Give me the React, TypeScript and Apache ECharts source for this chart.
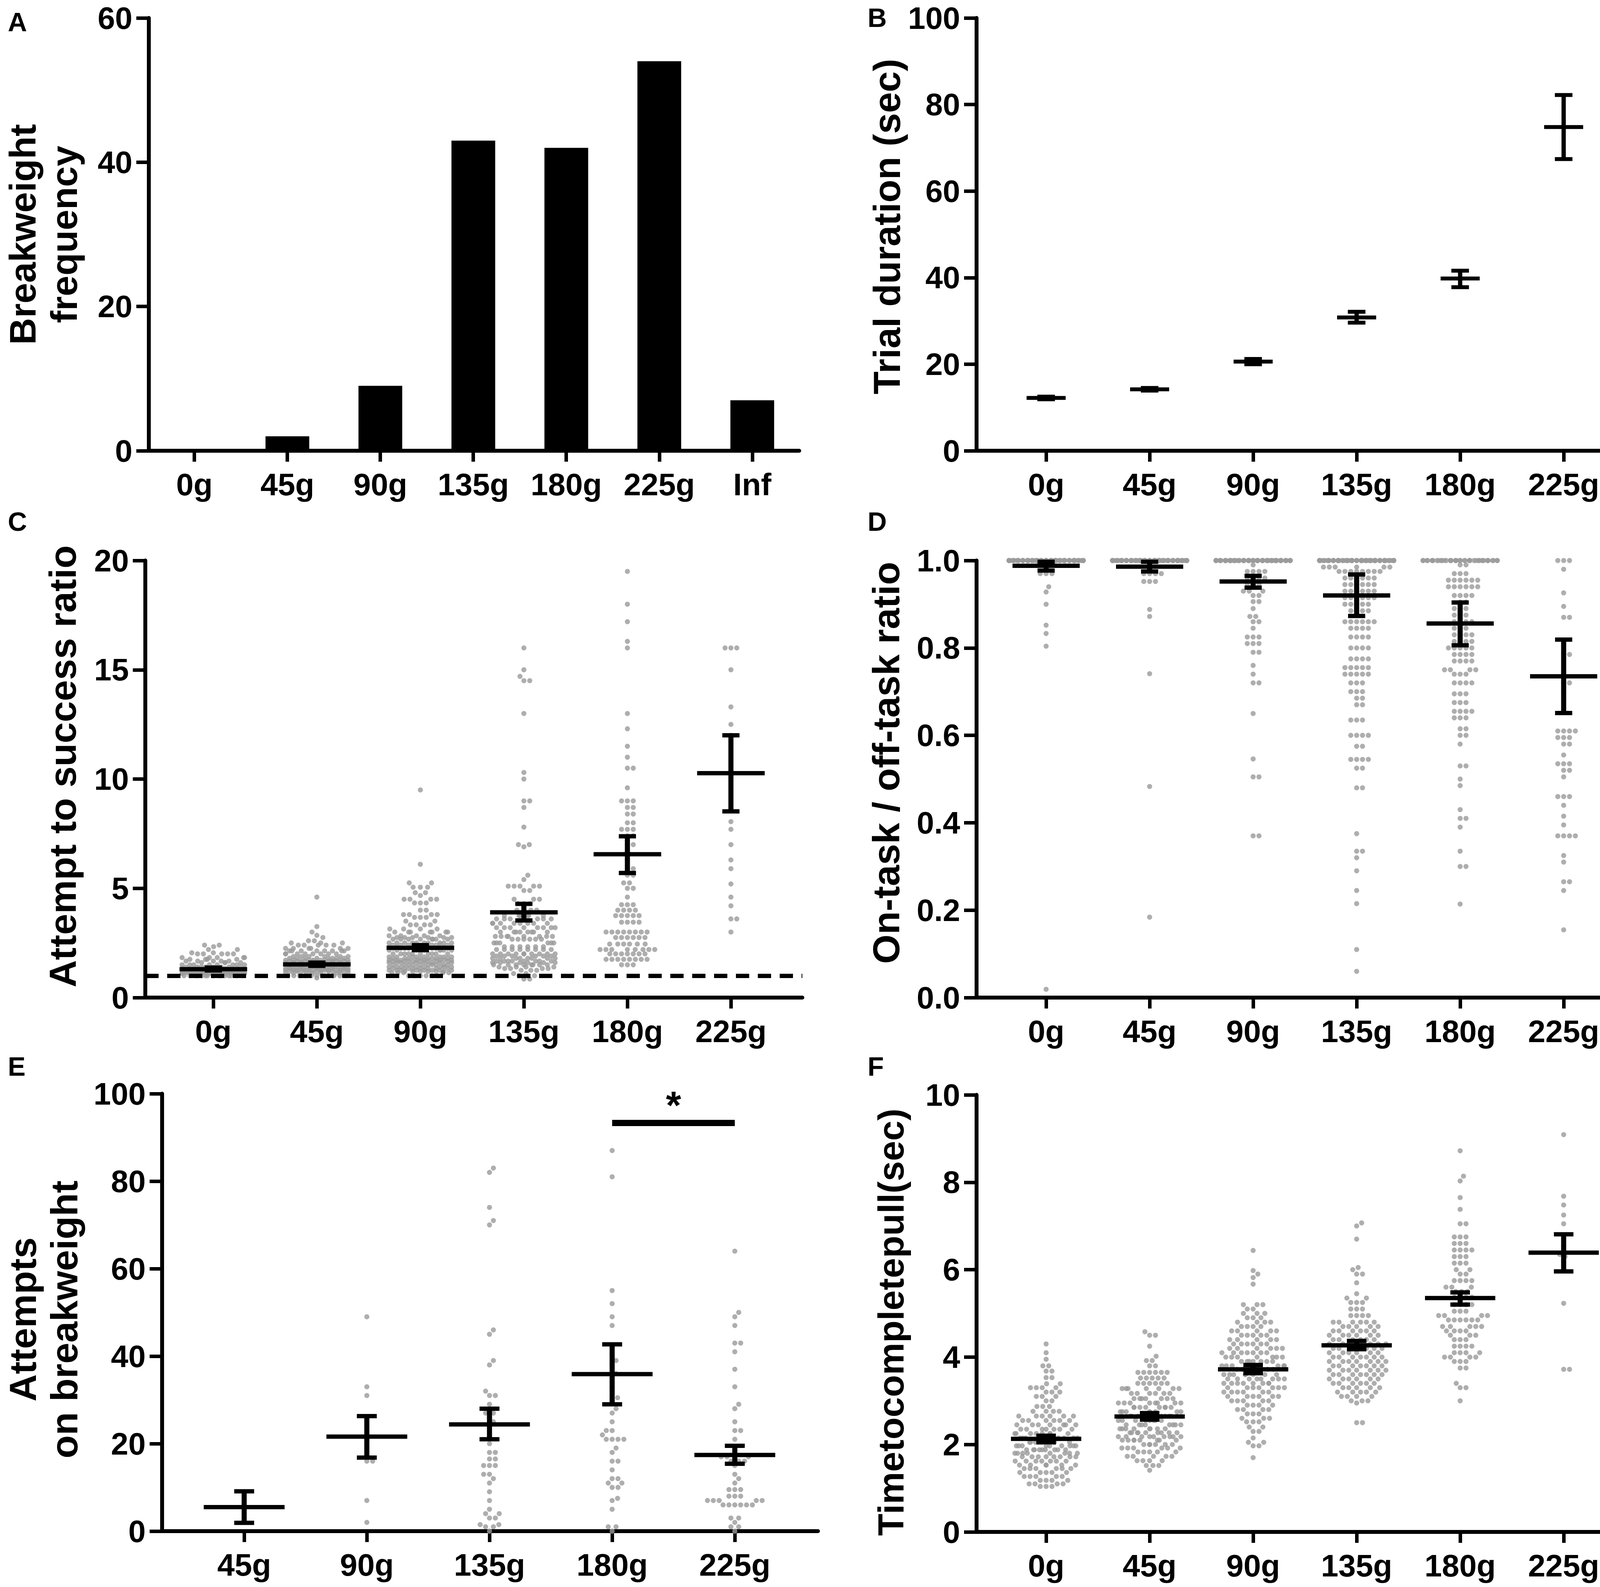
import React, { useEffect, useRef } from 'react';
import * as echarts from 'echarts';

const FONT = '"Liberation Sans", Arial, Helvetica, sans-serif';

// ---------- categories ----------
const catsA = ['0g', '45g', '90g', '135g', '180g', '225g', 'Inf'];
const cats6 = ['0g', '45g', '90g', '135g', '180g', '225g'];
const catsE = ['45g', '90g', '135g', '180g', '225g'];

// ---------- A: breakweight frequency ----------
const breakFreq = [0, 2, 9, 43, 42, 54, 7];

// ---------- B: trial duration (mean, SEM limits) ----------
const trialMean = [12.2, 14.2, 20.6, 30.8, 39.8, 74.8];
const trialLo = [11.9, 13.9, 20.0, 29.6, 37.8, 67.4];
const trialHi = [12.5, 14.5, 21.2, 32.1, 41.6, 82.2];

// ---------- C: attempt to success ratio, dots as [value, count] ----------
const ratio0g = [[2.4, 2], [2.33, 1], [2.2, 2], [2.05, 2], [2.0, 5], [1.83, 5], [1.75, 4], [1.67, 5], [1.6, 4], [1.5, 8], [1.4, 8], [1.33, 12], [1.25, 14], [1.2, 12], [1.14, 12], [1.1, 10], [1.0, 16]];
const ratio45g = [[4.6, 1], [3.25, 1], [3.0, 1], [2.85, 1], [2.75, 1], [2.6, 2], [2.5, 3], [2.4, 5], [2.25, 6], [2.14, 8], [2.0, 8], [1.88, 6], [1.8, 8], [1.71, 8], [1.67, 10], [1.6, 10], [1.5, 14], [1.4, 10], [1.33, 12], [1.25, 12], [1.2, 8], [1.13, 8], [1.0, 14], [0.9, 1]];
const ratio90g = [[9.5, 1], [6.1, 1], [5.25, 2], [5.05, 3], [4.8, 2], [4.67, 1], [4.5, 4], [4.33, 3], [4.0, 2], [3.8, 4], [3.67, 3], [3.5, 2], [3.33, 4], [3.14, 4], [3.0, 7], [2.83, 5], [2.75, 6], [2.67, 8], [2.5, 10], [2.4, 8], [2.33, 8], [2.25, 8], [2.17, 8], [2.0, 10], [1.86, 8], [1.8, 8], [1.71, 8], [1.67, 8], [1.6, 8], [1.5, 10], [1.4, 8], [1.33, 8], [1.25, 8], [1.2, 6], [1.14, 5], [1.0, 6]];
const ratio135g = [[16, 1], [15, 1], [14.7, 1], [14.5, 2], [13, 1], [10.3, 1], [10, 1], [9, 2], [8.7, 1], [7.8, 1], [7, 2], [6.9, 1], [5.6, 1], [5.4, 1], [5.1, 5], [4.9, 2], [4.5, 3], [4.3, 3], [4.0, 4], [3.75, 6], [3.6, 7], [3.4, 8], [3.2, 8], [3.0, 8], [2.8, 8], [2.67, 6], [2.5, 6], [2.33, 6], [2.2, 8], [2.0, 10], [1.9, 6], [1.8, 8], [1.67, 8], [1.6, 6], [1.5, 8], [1.4, 4], [1.33, 4], [1.25, 3], [1.1, 2], [1.0, 2], [0.85, 2]];
const ratio180g = [[19.5, 1], [18, 1], [17.2, 1], [16.3, 1], [16, 1], [13, 1], [12.3, 1], [11.5, 1], [11, 1], [10.5, 2], [9.6, 1], [9, 3], [8.7, 2], [8.4, 2], [8, 2], [7.7, 3], [7.4, 2], [7, 2], [6.7, 1], [6.3, 1], [5.9, 2], [5.6, 2], [5.25, 2], [5.0, 2], [4.6, 1], [4.25, 3], [4.0, 4], [3.75, 5], [3.45, 4], [3.0, 8], [2.75, 6], [2.45, 6], [2.2, 8], [2.0, 7], [1.75, 8], [1.5, 3]];
const ratio225g = [[16, 3], [15, 1], [13.3, 1], [12.5, 1], [12, 1], [8.55, 1], [8.05, 1], [7.7, 1], [7.0, 1], [6.3, 1], [5.9, 1], [5.2, 1], [4.6, 1], [4.2, 1], [3.6, 2], [3.0, 1]];
const ratioMean = [1.3, 1.52, 2.28, 3.9, 6.56, 10.27];
const ratioLo = [1.24, 1.45, 2.17, 3.53, 5.7, 8.52];
const ratioHi = [1.37, 1.6, 2.4, 4.29, 7.38, 12.0];
const chanceRatio = 1;

// ---------- D: on-task / off-task ratio ----------
const onTask0g = [[1.0, 70], [0.97, 3], [0.94, 1], [0.928, 1], [0.9, 1], [0.852, 1], [0.833, 1], [0.804, 1], [0.019, 1]];
const onTask45g = [[1.0, 70], [0.97, 4], [0.952, 3], [0.888, 1], [0.872, 1], [0.741, 1], [0.483, 1], [0.184, 1]];
const onTask90g = [[1.0, 60], [0.99, 1], [0.975, 4], [0.96, 4], [0.945, 3], [0.93, 3], [0.92, 2], [0.906, 2], [0.89, 1], [0.872, 2], [0.86, 2], [0.845, 1], [0.825, 3], [0.81, 3], [0.79, 2], [0.76, 1], [0.74, 1], [0.72, 2], [0.65, 1], [0.546, 1], [0.505, 2], [0.37, 2]];
const onTask135g = [[1.0, 60], [0.985, 6], [0.975, 8], [0.96, 6], [0.945, 6], [0.93, 6], [0.915, 6], [0.9, 5], [0.885, 4], [0.86, 6], [0.845, 4], [0.825, 4], [0.8, 4], [0.775, 4], [0.755, 5], [0.74, 5], [0.72, 3], [0.7, 3], [0.685, 2], [0.67, 2], [0.635, 3], [0.6, 4], [0.575, 2], [0.545, 4], [0.525, 2], [0.48, 2], [0.375, 1], [0.335, 2], [0.32, 1], [0.29, 1], [0.245, 1], [0.215, 1], [0.11, 1], [0.06, 1]];
const onTask180g = [[1.0, 40], [0.99, 2], [0.97, 3], [0.955, 6], [0.94, 6], [0.92, 4], [0.905, 2], [0.89, 3], [0.875, 3], [0.86, 4], [0.845, 3], [0.83, 4], [0.815, 4], [0.8, 5], [0.785, 4], [0.77, 4], [0.75, 4], [0.74, 3], [0.72, 4], [0.695, 3], [0.675, 3], [0.655, 4], [0.64, 3], [0.615, 2], [0.6, 2], [0.58, 1], [0.53, 2], [0.5, 1], [0.485, 1], [0.43, 1], [0.41, 2], [0.39, 1], [0.335, 1], [0.3, 2], [0.214, 1]];
const onTask225g = [[1.0, 3], [0.98, 1], [0.926, 1], [0.895, 1], [0.87, 2], [0.785, 2], [0.72, 2], [0.7, 1], [0.61, 4], [0.595, 3], [0.58, 2], [0.555, 1], [0.535, 3], [0.52, 2], [0.505, 1], [0.46, 3], [0.44, 1], [0.415, 1], [0.395, 1], [0.37, 4], [0.325, 1], [0.31, 1], [0.265, 2], [0.245, 1], [0.155, 1]];
const onTaskMean = [0.988, 0.986, 0.952, 0.92, 0.856, 0.735];
const onTaskLo = [0.977, 0.975, 0.938, 0.873, 0.806, 0.651];
const onTaskHi = [0.997, 0.997, 0.965, 0.968, 0.904, 0.819];

// ---------- E: attempts on breakweight ----------
const attempts45g = [[2, 1], [9, 1]];
const attempts90g = [[49, 1], [33, 1], [31, 1], [21, 1], [19, 1], [16, 2], [7, 1], [2, 1]];
const attempts135g = [[83, 1], [82, 1], [74, 1], [71, 1], [70, 1], [46, 1], [45, 1], [39, 1], [38, 1], [32, 1], [31, 2], [29, 1], [27, 2], [26, 1], [25, 1], [24, 1], [20, 1], [18, 2], [16.5, 2], [15, 3], [13, 2], [12, 1], [11, 1], [9, 1], [7, 1], [5, 1], [4, 2], [3, 2], [1.5, 2], [1, 2], [0, 1]];
const attempts180g = [[87, 1], [81, 1], [55, 1], [52, 1], [49, 1], [47, 1], [42, 1], [40, 1], [39, 1], [38, 1], [36, 1], [35, 1], [33, 1], [30.5, 1], [30, 1], [28, 1], [27, 1], [25, 1], [23, 2], [22, 1], [21, 4], [19, 1], [18, 1], [16, 2], [14, 1], [12, 2], [11, 2], [10, 2], [7.5, 1], [7, 1], [5, 1], [1, 2], [0, 1]];
const attempts225g = [[64, 1], [50, 1], [49, 1], [47, 1], [43, 2], [41, 1], [37, 1], [33, 1], [29, 1], [28, 1], [25, 1], [23, 2], [21, 1], [18.5, 1], [17, 4], [16, 3], [15, 1], [13, 1], [12, 1], [11, 1], [9.5, 3], [8, 3], [7, 5], [6, 6], [3, 2], [2, 1], [1, 2], [0, 1]];
const attemptsMean = [5.5, 21.6, 24.4, 35.9, 17.4];
const attemptsLo = [1.9, 16.8, 21.0, 29.0, 15.4];
const attemptsHi = [9.1, 26.3, 28.0, 42.7, 19.5];
const sigPair = [3, 4];
const sigLevel = 93.3;
const sigText = '*';

// ---------- F: time to complete pull ----------
const pull0g = [[4.3, 1], [4.1, 1], [3.95, 1], [3.8, 2], [3.68, 2], [3.53, 2], [3.39, 2], [3.3, 4], [3.2, 3], [3.1, 3], [3.0, 2], [2.87, 3], [2.76, 4], [2.65, 6], [2.55, 6], [2.45, 7], [2.35, 7], [2.25, 8], [2.15, 8], [2.05, 8], [1.97, 9], [1.88, 9], [1.8, 8], [1.72, 8], [1.62, 7], [1.53, 6], [1.45, 6], [1.36, 5], [1.27, 5], [1.18, 4], [1.1, 4], [1.04, 3]];
const pull45g = [[4.58, 1], [4.5, 2], [4.25, 1], [4.02, 1], [3.92, 2], [3.8, 2], [3.65, 6], [3.52, 5], [3.4, 6], [3.28, 7], [3.17, 6], [3.05, 7], [2.95, 8], [2.85, 8], [2.75, 8], [2.65, 9], [2.55, 8], [2.45, 8], [2.36, 8], [2.27, 9], [2.18, 9], [2.1, 8], [2.0, 6], [1.92, 6], [1.83, 5], [1.73, 5], [1.63, 4], [1.52, 3], [1.41, 1]];
const pull90g = [[6.44, 1], [5.98, 1], [5.9, 1], [5.82, 1], [5.67, 1], [5.2, 3], [5.1, 2], [5.0, 3], [4.9, 3], [4.8, 4], [4.7, 4], [4.6, 5], [4.5, 5], [4.4, 5], [4.3, 6], [4.2, 6], [4.1, 7], [4.0, 7], [3.9, 7], [3.8, 7], [3.72, 7], [3.6, 8], [3.5, 8], [3.4, 8], [3.3, 7], [3.2, 6], [3.1, 6], [3.0, 5], [2.9, 4], [2.8, 4], [2.7, 3], [2.6, 3], [2.52, 3], [2.4, 2], [2.3, 2], [2.15, 1], [2.05, 2], [1.97, 2], [1.7, 1]];
const pull135g = [[7.07, 1], [7.0, 1], [6.7, 1], [6.05, 1], [6.0, 1], [5.9, 2], [5.7, 1], [5.45, 1], [5.35, 2], [5.25, 3], [5.1, 3], [4.95, 4], [4.8, 6], [4.7, 5], [4.6, 6], [4.5, 6], [4.4, 6], [4.3, 7], [4.2, 7], [4.1, 6], [4.0, 7], [3.9, 7], [3.8, 7], [3.7, 7], [3.6, 7], [3.5, 6], [3.4, 6], [3.3, 5], [3.2, 5], [3.1, 4], [3.0, 3], [2.95, 1], [2.5, 2]];
const pull180g = [[8.72, 1], [8.14, 1], [8.03, 1], [7.65, 1], [7.38, 1], [7.05, 2], [6.75, 3], [6.6, 3], [6.45, 4], [6.3, 3], [6.15, 3], [6.0, 2], [5.9, 2], [5.75, 4], [5.6, 3], [5.5, 3], [5.37, 4], [5.2, 4], [5.05, 3], [4.95, 4], [4.85, 6], [4.7, 5], [4.6, 4], [4.5, 3], [4.4, 3], [4.25, 4], [4.1, 4], [4.0, 4], [3.9, 3], [3.75, 2], [3.4, 1], [3.3, 2], [3.0, 1]];
const pull225g = [[9.09, 1], [7.68, 1], [7.48, 1], [7.25, 1], [7.05, 1], [6.54, 1], [6.35, 1], [6.3, 1], [6.17, 1], [5.23, 1], [3.72, 2]];
const pullMean = [2.13, 2.64, 3.72, 4.27, 5.35, 6.39];
const pullLo = [2.05, 2.57, 3.63, 4.18, 5.2, 5.96];
const pullHi = [2.2, 2.72, 3.82, 4.37, 5.48, 6.81];

// ---------- layout (pixels) ----------
const PANELS = [
  { id: 'A', left: 381, top: 46, width: 1665, height: 1108, xMin: -0.49, xMax: 6.505, yMax: 60, yInt: 20, cats: catsA },
  { id: 'B', left: 2500, top: 46, width: 1685, height: 1108, xMin: -0.672, xMax: 5.687, yMax: 100, yInt: 20, cats: cats6 },
  { id: 'C', left: 372, top: 1435, width: 1682, height: 1119, xMin: -0.657, xMax: 5.69, yMax: 20, yInt: 5, cats: cats6 },
  { id: 'D', left: 2500, top: 1435, width: 1685, height: 1119, xMin: -0.672, xMax: 5.687, yMax: 1, yInt: 0.2, cats: cats6 },
  { id: 'E', left: 415, top: 2800, width: 1679, height: 1120, xMin: -0.669, xMax: 4.678, yMax: 100, yInt: 20, cats: catsE },
  { id: 'F', left: 2500, top: 2803, width: 1685, height: 1119, xMin: -0.672, xMax: 5.687, yMax: 10, yInt: 2, cats: cats6 },
];

const DOT = 13;
const DOT_GAP = 15;

function expand(pairs: number[][]): number[] {
  const out: number[] = [];
  pairs.forEach(([v, n]) => { for (let i = 0; i < n; i++) out.push(v); });
  return out;
}

// beeswarm x-offsets (pixels) for a group of values
function swarm(values: number[], pxPerY: number, maxHalf: number): number[] {
  const order = values.map((_, i) => i).sort((a, b) => values[a] - values[b]);
  const placed: { x: number; y: number }[] = [];
  const offs = new Array(values.length).fill(0);
  const d = DOT_GAP;
  const fallback = [0, 0.5, -0.5, 0.25, -0.25, 0.75, -0.75, 1, -1, 0.125, -0.125, 0.625, -0.625, 0.375, -0.375, 0.875, -0.875];
  let cyc = 0;
  for (const i of order) {
    const y = values[i] * pxPerY;
    const near = placed.filter((p) => Math.abs(p.y - y) < d);
    const cands = [0];
    near.forEach((p) => {
      const dx = Math.sqrt(Math.max(0, d * d - (p.y - y) * (p.y - y)));
      cands.push(p.x + dx, p.x - dx);
    });
    cands.sort((a, b) => Math.abs(a) - Math.abs(b));
    let chosen: number | null = null;
    for (const c of cands) {
      if (Math.abs(c) > maxHalf + 0.01) break;
      if (near.every((p) => (p.x - c) * (p.x - c) + (p.y - y) * (p.y - y) >= d * d - 0.5)) { chosen = c; break; }
    }
    if (chosen === null) { chosen = fallback[cyc % fallback.length] * maxHalf; cyc++; }
    placed.push({ x: chosen, y });
    offs[i] = chosen;
  }
  return offs;
}

function dotData(pIdx: number, groups: number[][][], maxHalf: number) {
  const p = PANELS[pIdx];
  const pxPerX = p.width / (p.xMax - p.xMin);
  const pxPerY = p.height / p.yMax;
  const out: number[][] = [];
  groups.forEach((g, k) => {
    const vals = expand(g);
    const offs = swarm(vals, pxPerY, maxHalf);
    vals.forEach((v, j) => out.push([k + offs[j] / pxPerX, v]));
  });
  return out;
}

function summary(means: number[], lo: number[], hi: number[]) {
  return means.map((m, k) => [k, m, lo[k], hi[k]]);
}

function errSeries(idx: number, data: number[][], meanW: number, capW: number, lw: number, vw: number) {
  return {
    type: 'custom', xAxisIndex: idx, yAxisIndex: idx, data, clip: false, silent: true, z: 10,
    renderItem: (params: any, api: any) => {
      const x = api.value(0), m = api.value(1), lo = api.value(2), hi = api.value(3);
      const pm = api.coord([x, m]);
      const pl = api.coord([x, lo]);
      const ph = api.coord([x, hi]);
      const st = { stroke: '#000', lineWidth: lw };
      return {
        type: 'group',
        children: [
          { type: 'line', shape: { x1: pl[0], y1: pl[1], x2: ph[0], y2: ph[1] }, style: { stroke: '#000', lineWidth: vw } },
          { type: 'line', shape: { x1: pl[0] - capW / 2, y1: pl[1], x2: pl[0] + capW / 2, y2: pl[1] }, style: st },
          { type: 'line', shape: { x1: ph[0] - capW / 2, y1: ph[1], x2: ph[0] + capW / 2, y2: ph[1] }, style: st },
          { type: 'line', shape: { x1: pm[0] - meanW / 2, y1: pm[1], x2: pm[0] + meanW / 2, y2: pm[1] }, style: st },
        ],
      };
    },
  };
}

function buildOption() {
  const grid = PANELS.map((p) => ({ left: p.left, top: p.top, width: p.width, height: p.height, containLabel: false, outerBoundsMode: 'none' }));
  const xAxis = PANELS.map((p, i) => {
    const ticks = p.cats.map((_, k) => k);
    return {
      type: 'value', gridIndex: i, min: p.xMin, max: p.xMax,
      axisLine: { show: true, onZero: false, lineStyle: { color: '#000', width: 10 } },
      axisTick: { show: true, length: 28, customValues: ticks, lineStyle: { color: '#000', width: 9 } },
      axisLabel: {
        show: true, customValues: ticks, margin: 46, fontSize: 80, lineHeight: 80, fontWeight: 'bold', fontFamily: FONT, color: '#000',
        formatter: (v: number) => p.cats[Math.round(v)] ?? '',
      },
      splitLine: { show: false },
    };
  });
  const yAxis = PANELS.map((p, i) => ({
    type: 'value', gridIndex: i, min: 0, max: p.yMax, interval: p.yInt,
    axisLine: { show: true, onZero: false, lineStyle: { color: '#000', width: 10 } },
    axisTick: { show: true, length: 32, lineStyle: { color: '#000', width: 9 } },
    axisLabel: {
      margin: 42, fontSize: 80, lineHeight: 62, fontWeight: 'bold', fontFamily: FONT, color: '#000',
      formatter: p.id === 'D' ? (v: number) => v.toFixed(1) : (v: number) => String(Math.round(v)),
    },
    splitLine: { show: false },
  }));

  const dotStyle = { color: '#9a9a9a' };
  const series: any[] = [
    // A
    {
      type: 'bar', xAxisIndex: 0, yAxisIndex: 0, barWidth: 112, silent: true,
      itemStyle: { color: '#000' }, data: breakFreq.map((v, k) => [k, v]),
    },
    // B
    errSeries(1, summary(trialMean, trialLo, trialHi), 100, 45, 10, 11),
    // C
    {
      type: 'scatter', xAxisIndex: 2, yAxisIndex: 2, symbol: 'circle', symbolSize: DOT, silent: true,
      itemStyle: dotStyle,
      data: dotData(2, [ratio0g, ratio45g, ratio90g, ratio135g, ratio180g, ratio225g], 80),
      markLine: {
        silent: true, symbol: 'none', z: 5, label: { show: false },
        lineStyle: { color: '#000', width: 11, type: [34, 22] },
        data: [{ yAxis: chanceRatio }],
      },
    },
    errSeries(2, summary(ratioMean, ratioLo, ratioHi), 173, 44, 11, 13),
    // D
    {
      type: 'scatter', xAxisIndex: 3, yAxisIndex: 3, symbol: 'circle', symbolSize: DOT, silent: true,
      itemStyle: dotStyle,
      data: dotData(3, [onTask0g, onTask45g, onTask90g, onTask135g, onTask180g, onTask225g], 95),
    },
    errSeries(3, summary(onTaskMean, onTaskLo, onTaskHi), 172, 44, 11, 13),
    // E
    {
      type: 'scatter', xAxisIndex: 4, yAxisIndex: 4, symbol: 'circle', symbolSize: DOT, silent: true,
      itemStyle: dotStyle,
      data: dotData(4, [attempts45g, attempts90g, attempts135g, attempts180g, attempts225g], 75),
    },
    errSeries(4, summary(attemptsMean, attemptsLo, attemptsHi), 207, 51, 11, 13),
    {
      type: 'custom', xAxisIndex: 4, yAxisIndex: 4, clip: false, silent: true, z: 10,
      data: [[sigPair[0], sigPair[1], sigLevel]],
      renderItem: (params: any, api: any) => {
        const a = api.coord([api.value(0), api.value(2)]);
        const b = api.coord([api.value(1), api.value(2)]);
        return {
          type: 'group',
          children: [
            { type: 'line', shape: { x1: a[0], y1: a[1], x2: b[0], y2: b[1] }, style: { stroke: '#000', lineWidth: 16 } },
            {
              type: 'text', x: (a[0] + b[0]) / 2, y: a[1] - 46,
              style: { text: sigText, fontSize: 100, lineHeight: 80, fontWeight: 'bold', fontFamily: FONT, fill: '#000', align: 'center', verticalAlign: 'middle' },
            },
          ],
        };
      },
    },
    // F
    {
      type: 'scatter', xAxisIndex: 5, yAxisIndex: 5, symbol: 'circle', symbolSize: DOT, silent: true,
      itemStyle: dotStyle,
      data: dotData(5, [pull0g, pull45g, pull90g, pull135g, pull180g, pull225g], 80),
    },
    errSeries(5, summary(pullMean, pullLo, pullHi), 180, 50, 11, 13),
  ];

  const titleStyle = (text: string, size: number) => ({
    text, fontSize: size, fontWeight: 'bold', fontFamily: FONT, fill: '#000', align: 'center', verticalAlign: 'middle', lineHeight: Math.round(size * 0.8),
  });
  const letterStyle = (text: string) => ({ text, fontSize: 68, lineHeight: 56, fontWeight: 'bold', fontFamily: FONT, fill: '#000', align: 'left', verticalAlign: 'middle' });
  const rot = Math.PI / 2;
  const graphic = [
    { type: 'text', x: 58, y: 600, rotation: rot, style: titleStyle('Breakweight', 95) },
    { type: 'text', x: 164, y: 600, rotation: rot, style: titleStyle('frequency', 95) },
    { type: 'text', x: 2270, y: 580, rotation: rot, style: titleStyle('Trial duration (sec)', 96) },
    { type: 'text', x: 160, y: 1962, rotation: rot, style: titleStyle('Attempt to success ratio', 97) },
    { type: 'text', x: 2268, y: 1953, rotation: rot, style: titleStyle('On-task / off-task ratio', 97) },
    { type: 'text', x: 58, y: 3378, rotation: rot, style: titleStyle('Attempts', 97) },
    { type: 'text', x: 164, y: 3378, rotation: rot, style: titleStyle('on breakweight', 97) },
    { type: 'text', x: 2281, y: 3385, rotation: rot, style: titleStyle('Timetocompletepull(sec)', 93) },
    { type: 'text', x: 20, y: 56, style: letterStyle('A') },
    { type: 'text', x: 2221, y: 45, style: letterStyle('B') },
    { type: 'text', x: 20, y: 1335, style: letterStyle('C') },
    { type: 'text', x: 2221, y: 1335, style: letterStyle('D') },
    { type: 'text', x: 20, y: 2730, style: letterStyle('E') },
    { type: 'text', x: 2221, y: 2730, style: letterStyle('F') },
  ];

  return { animation: false, backgroundColor: '#ffffff', grid, xAxis, yAxis, series, graphic };
}

export default function App() {
  const ref = useRef<HTMLDivElement>(null);
  useEffect(() => {
    document.body.style.margin = '0';
    document.body.style.overflow = 'hidden';
    if (!ref.current) return;
    const chart = echarts.init(ref.current, null, { renderer: 'svg' });
    chart.setOption(buildOption() as any);
    return () => chart.dispose();
  }, []);
  return <div ref={ref} style={{ width: 4191, height: 4063, background: '#fff' }} />;
}
